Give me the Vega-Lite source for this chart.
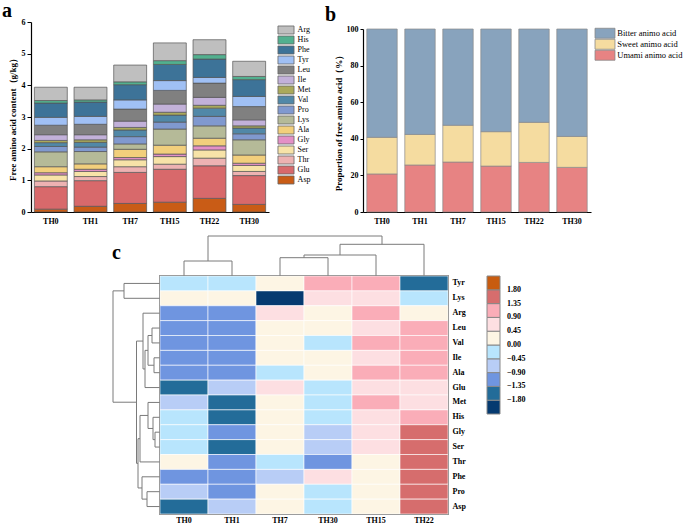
{
  "$schema": "https://vega.github.io/schema/vega-lite/v6.json",
  "padding": {"left": 2, "top": 1, "right": 2, "bottom": 0},
  "background": "white",
  "config": {
    "view": {"stroke": null},
    "font": "Liberation Serif",
    "axis": {"labelFont": "Liberation Serif", "titleFont": "Liberation Serif", "labelColor": "#000", "titleColor": "#000", "domainColor": "#000", "tickColor": "#000", "grid": false, "labelFontWeight": "bold", "titleFontWeight": "bold"},
    "legend": {"labelFont": "Liberation Serif", "labelColor": "#000"},
    "title": {"font": "Liberation Serif", "fontWeight": "bold", "fontSize": 20, "color": "#000"}
  },
  "resolve": {"scale": {"color": "independent"}, "legend": {"color": "independent"}},
  "spacing": 10,
  "vconcat": [
    {
      "spacing": 10,
      "resolve": {"scale": {"color": "independent"}, "legend": {"color": "independent"}},
      "hconcat": [
        {
          "title": {"text": "a", "anchor": "start", "frame": "bounds", "dx": -6, "offset": -3},
          "width": 238,
          "height": 190,
          "data": {"values": [
            {"g":"TH0","aa":"Asp","v":0.09},{"g":"TH0","aa":"Glu","v":0.71},{"g":"TH0","aa":"Thr","v":0.18},{"g":"TH0","aa":"Ser","v":0.19},{"g":"TH0","aa":"Gly","v":0.07},{"g":"TH0","aa":"Ala","v":0.19},{"g":"TH0","aa":"Lys","v":0.47},{"g":"TH0","aa":"Pro","v":0.17},{"g":"TH0","aa":"Val","v":0.12},{"g":"TH0","aa":"Met","v":0.07},{"g":"TH0","aa":"Ile","v":0.18},{"g":"TH0","aa":"Leu","v":0.30},{"g":"TH0","aa":"Tyr","v":0.25},{"g":"TH0","aa":"Phe","v":0.45},{"g":"TH0","aa":"His","v":0.08},{"g":"TH0","aa":"Arg","v":0.42},
            {"g":"TH1","aa":"Asp","v":0.18},{"g":"TH1","aa":"Glu","v":0.81},{"g":"TH1","aa":"Thr","v":0.13},{"g":"TH1","aa":"Ser","v":0.16},{"g":"TH1","aa":"Gly","v":0.07},{"g":"TH1","aa":"Ala","v":0.17},{"g":"TH1","aa":"Lys","v":0.39},{"g":"TH1","aa":"Pro","v":0.14},{"g":"TH1","aa":"Val","v":0.15},{"g":"TH1","aa":"Met","v":0.08},{"g":"TH1","aa":"Ile","v":0.16},{"g":"TH1","aa":"Leu","v":0.33},{"g":"TH1","aa":"Tyr","v":0.25},{"g":"TH1","aa":"Phe","v":0.45},{"g":"TH1","aa":"His","v":0.07},{"g":"TH1","aa":"Arg","v":0.40},
            {"g":"TH7","aa":"Asp","v":0.27},{"g":"TH7","aa":"Glu","v":0.98},{"g":"TH7","aa":"Thr","v":0.18},{"g":"TH7","aa":"Ser","v":0.22},{"g":"TH7","aa":"Gly","v":0.07},{"g":"TH7","aa":"Ala","v":0.26},{"g":"TH7","aa":"Lys","v":0.17},{"g":"TH7","aa":"Pro","v":0.23},{"g":"TH7","aa":"Val","v":0.21},{"g":"TH7","aa":"Met","v":0.08},{"g":"TH7","aa":"Ile","v":0.20},{"g":"TH7","aa":"Leu","v":0.38},{"g":"TH7","aa":"Tyr","v":0.29},{"g":"TH7","aa":"Phe","v":0.48},{"g":"TH7","aa":"His","v":0.09},{"g":"TH7","aa":"Arg","v":0.53},
            {"g":"TH15","aa":"Asp","v":0.31},{"g":"TH15","aa":"Glu","v":1.04},{"g":"TH15","aa":"Thr","v":0.16},{"g":"TH15","aa":"Ser","v":0.24},{"g":"TH15","aa":"Gly","v":0.08},{"g":"TH15","aa":"Ala","v":0.28},{"g":"TH15","aa":"Lys","v":0.51},{"g":"TH15","aa":"Pro","v":0.22},{"g":"TH15","aa":"Val","v":0.22},{"g":"TH15","aa":"Met","v":0.09},{"g":"TH15","aa":"Ile","v":0.26},{"g":"TH15","aa":"Leu","v":0.43},{"g":"TH15","aa":"Tyr","v":0.31},{"g":"TH15","aa":"Phe","v":0.51},{"g":"TH15","aa":"His","v":0.12},{"g":"TH15","aa":"Arg","v":0.56},
            {"g":"TH22","aa":"Asp","v":0.43},{"g":"TH22","aa":"Glu","v":1.03},{"g":"TH22","aa":"Thr","v":0.24},{"g":"TH22","aa":"Ser","v":0.26},{"g":"TH22","aa":"Gly","v":0.13},{"g":"TH22","aa":"Ala","v":0.24},{"g":"TH22","aa":"Lys","v":0.39},{"g":"TH22","aa":"Pro","v":0.30},{"g":"TH22","aa":"Val","v":0.26},{"g":"TH22","aa":"Met","v":0.09},{"g":"TH22","aa":"Ile","v":0.25},{"g":"TH22","aa":"Leu","v":0.45},{"g":"TH22","aa":"Tyr","v":0.18},{"g":"TH22","aa":"Phe","v":0.58},{"g":"TH22","aa":"His","v":0.14},{"g":"TH22","aa":"Arg","v":0.47},
            {"g":"TH30","aa":"Asp","v":0.24},{"g":"TH30","aa":"Glu","v":0.91},{"g":"TH30","aa":"Thr","v":0.13},{"g":"TH30","aa":"Ser","v":0.19},{"g":"TH30","aa":"Gly","v":0.07},{"g":"TH30","aa":"Ala","v":0.26},{"g":"TH30","aa":"Lys","v":0.48},{"g":"TH30","aa":"Pro","v":0.19},{"g":"TH30","aa":"Val","v":0.18},{"g":"TH30","aa":"Met","v":0.07},{"g":"TH30","aa":"Ile","v":0.19},{"g":"TH30","aa":"Leu","v":0.42},{"g":"TH30","aa":"Tyr","v":0.32},{"g":"TH30","aa":"Phe","v":0.53},{"g":"TH30","aa":"His","v":0.10},{"g":"TH30","aa":"Arg","v":0.48}
          ]},
          "transform": [{"calculate": "indexof(['Asp','Glu','Thr','Ser','Gly','Ala','Lys','Pro','Val','Met','Ile','Leu','Tyr','Phe','His','Arg'], datum.aa)", "as": "k"}],
          "mark": {"type": "bar", "stroke": "#555", "strokeWidth": 0.7},
          "encoding": {
            "x": {"field": "g", "type": "nominal", "sort": ["TH0","TH1","TH7","TH15","TH22","TH30"], "scale": {"paddingInner": 0.17, "paddingOuter": 0.085}, "axis": {"title": null, "labelAngle": 0, "labelFontSize": 8, "ticks": false, "domainWidth": 1.2, "labelPadding": 5}},
            "y": {"field": "v", "type": "quantitative", "stack": "zero", "scale": {"domain": [0, 6]}, "axis": {"values": [0,1,2,3,4,5,6], "title": "Free amino acid content（g/kg）", "titleFontSize": 9, "labelFontSize": 8, "tickSize": 4, "titlePadding": 4, "domainWidth": 1.2, "labelPadding": 2}},
            "color": {"field": "aa", "type": "nominal", "scale": {"domain": ["Arg","His","Phe","Tyr","Leu","Ile","Met","Val","Pro","Lys","Ala","Gly","Ser","Thr","Glu","Asp"], "range": ["#bfbfbf","#52b08f","#3d7398","#a0c0f4","#808080","#c2b1d9","#aaa95b","#5188a8","#8099cf","#b5ba98","#f2cf7c","#e490c6","#f7e3a8","#edb2b2","#d8696b","#c95c16"]}, "legend": {"title": null, "orient": "right", "offset": 9, "padding": 4, "symbolType": "M-2.37,-1.18H2.37V1.18H-2.37Z", "symbolSize": 46, "symbolStrokeColor": "#666", "symbolStrokeWidth": 0.8, "labelFontSize": 8, "rowPadding": -2.1, "labelOffset": 7.6}},
            "order": {"field": "k", "type": "quantitative"}
          }
        },
        {
          "title": {"text": "b", "anchor": "start", "frame": "bounds", "dx": -9, "offset": -3},
          "width": 228,
          "height": 190,
          "data": {"values": [
            {"g":"TH0","t":"Umami animo acid","v":20.8},{"g":"TH0","t":"Sweet animo acid","v":20.0},{"g":"TH0","t":"Bitter animo acid","v":59.2},
            {"g":"TH1","t":"Umami animo acid","v":25.7},{"g":"TH1","t":"Sweet animo acid","v":16.7},{"g":"TH1","t":"Bitter animo acid","v":57.6},
            {"g":"TH7","t":"Umami animo acid","v":27.3},{"g":"TH7","t":"Sweet animo acid","v":20.1},{"g":"TH7","t":"Bitter animo acid","v":52.6},
            {"g":"TH15","t":"Umami animo acid","v":25.1},{"g":"TH15","t":"Sweet animo acid","v":18.8},{"g":"TH15","t":"Bitter animo acid","v":56.1},
            {"g":"TH22","t":"Umami animo acid","v":27.1},{"g":"TH22","t":"Sweet animo acid","v":21.9},{"g":"TH22","t":"Bitter animo acid","v":51.0},
            {"g":"TH30","t":"Umami animo acid","v":24.4},{"g":"TH30","t":"Sweet animo acid","v":16.9},{"g":"TH30","t":"Bitter animo acid","v":58.7}
          ]},
          "transform": [{"calculate": "indexof(['Umami animo acid','Sweet animo acid','Bitter animo acid'], datum.t)", "as": "k"}],
          "mark": {"type": "bar", "stroke": "#8a8a8a", "strokeWidth": 0.7},
          "encoding": {
            "x": {"field": "g", "type": "nominal", "sort": ["TH0","TH1","TH7","TH15","TH22","TH30"], "scale": {"paddingInner": 0.2, "paddingOuter": 0.1}, "axis": {"title": null, "labelAngle": 0, "labelFontSize": 8, "ticks": false, "domainWidth": 1.2, "labelPadding": 5}},
            "y": {"field": "v", "type": "quantitative", "stack": "zero", "scale": {"domain": [0, 100], "range": [190, 7]}, "axis": {"values": [0,20,40,60,80,100], "title": "Proportion of free amino acid（%）", "titleFontSize": 9, "labelFontSize": 8, "tickSize": 3, "titlePadding": 3, "domainWidth": 1.2, "labelPadding": 2}},
            "color": {"field": "t", "type": "nominal", "scale": {"domain": ["Bitter animo acid","Sweet animo acid","Umami animo acid"], "range": ["#88a3bd","#f5dca0","#e78383"]}, "legend": {"title": null, "orient": "none", "legendX": 237.75, "legendY": 7, "symbolType": "M-3.08,-1.54H3.08V1.54H-3.08Z", "symbolSize": 42, "symbolStrokeColor": "#888", "symbolStrokeWidth": 0.8, "labelFontSize": 8.5, "rowPadding": -4, "labelOffset": 8}},
            "order": {"field": "k", "type": "quantitative"}
          }
        }
      ]
    },
    {
      "spacing": 0,
      "bounds": "flush",
      "resolve": {"scale": {"color": "independent"}, "legend": {"color": "independent"}},
      "hconcat": [
        {
          "title": {"text": "c", "anchor": "start", "frame": "group", "dx": 81, "offset": -27},
          "width": 129,
          "height": 278,
          "data": {"values": [
            {"d1":0,"d2":36,"r1":0.5,"r2":0.5},{"d1":0,"d2":36,"r1":1.5,"r2":1.5},{"d1":36,"d2":36,"r1":0.5,"r2":1.5},
            {"d1":0,"d2":8,"r1":3.5,"r2":3.5},{"d1":0,"d2":8,"r1":4.5,"r2":4.5},{"d1":8,"d2":8,"r1":3.5,"r2":4.5},
            {"d1":0,"d2":6,"r1":5.5,"r2":5.5},{"d1":0,"d2":6,"r1":6.5,"r2":6.5},{"d1":6,"d2":6,"r1":5.5,"r2":6.5},
            {"d1":8,"d2":12,"r1":4,"r2":4},{"d1":6,"d2":12,"r1":6,"r2":6},{"d1":12,"d2":12,"r1":4,"r2":6},
            {"d1":12,"d2":15,"r1":5,"r2":5},{"d1":0,"d2":15,"r1":7.5,"r2":7.5},{"d1":15,"d2":15,"r1":5,"r2":7.5},
            {"d1":0,"d2":17,"r1":2.5,"r2":2.5},{"d1":15,"d2":17,"r1":6.25,"r2":6.25},{"d1":17,"d2":17,"r1":2.5,"r2":6.25},
            {"d1":0,"d2":5,"r1":10.5,"r2":10.5},{"d1":0,"d2":5,"r1":11.5,"r2":11.5},{"d1":5,"d2":5,"r1":10.5,"r2":11.5},
            {"d1":0,"d2":7,"r1":9.5,"r2":9.5},{"d1":5,"d2":7,"r1":11,"r2":11},{"d1":7,"d2":7,"r1":9.5,"r2":11},
            {"d1":0,"d2":12,"r1":8.5,"r2":8.5},{"d1":7,"d2":12,"r1":10.25,"r2":10.25},{"d1":12,"d2":12,"r1":8.5,"r2":10.25},
            {"d1":12,"d2":20,"r1":9.375,"r2":9.375},{"d1":0,"d2":20,"r1":12.5,"r2":12.5},{"d1":20,"d2":20,"r1":9.375,"r2":12.5},
            {"d1":0,"d2":13,"r1":14.5,"r2":14.5},{"d1":0,"d2":13,"r1":15.5,"r2":15.5},{"d1":13,"d2":13,"r1":14.5,"r2":15.5},
            {"d1":0,"d2":18,"r1":13.5,"r2":13.5},{"d1":13,"d2":18,"r1":15,"r2":15},{"d1":18,"d2":18,"r1":13.5,"r2":15},
            {"d1":20,"d2":22,"r1":10.9375,"r2":10.9375},{"d1":18,"d2":22,"r1":14.25,"r2":14.25},{"d1":22,"d2":22,"r1":10.9375,"r2":14.25},
            {"d1":17,"d2":23.5,"r1":4.375,"r2":4.375},{"d1":22,"d2":23.5,"r1":12.59375,"r2":12.59375},{"d1":23.5,"d2":23.5,"r1":4.375,"r2":12.59375},
            {"d1":36,"d2":47,"r1":1,"r2":1},{"d1":23.5,"d2":47,"r1":8.484375,"r2":8.484375},{"d1":47,"d2":47,"r1":1,"r2":8.484375}
          ]},
          "mark": {"type": "rule", "color": "#7a7a7a", "strokeWidth": 1},
          "encoding": {
            "x": {"field": "d1", "type": "quantitative", "scale": {"domain": [0, 129], "reverse": true}, "axis": null},
            "x2": {"field": "d2"},
            "y": {"field": "r1", "type": "quantitative", "scale": {"domain": [-2.689, 16], "reverse": true}, "axis": null},
            "y2": {"field": "r2"}
          }
        },
        {
          "spacing": 0,
          "bounds": "flush",
          "resolve": {"scale": {"color": "independent"}, "legend": {"color": "independent"}},
          "vconcat": [
            {
              "width": 288,
              "height": 40,
              "data": {"values": [
                {"c1":0.5,"c2":0.5,"h1":0,"h2":15},{"c1":1.5,"c2":1.5,"h1":0,"h2":15},{"c1":0.5,"c2":1.5,"h1":15,"h2":15},
                {"c1":2.5,"c2":2.5,"h1":0,"h2":18.3},{"c1":3.5,"c2":3.5,"h1":0,"h2":18.3},{"c1":2.5,"c2":3.5,"h1":18.3,"h2":18.3},
                {"c1":3,"c2":3,"h1":18.3,"h2":21},{"c1":4.5,"c2":4.5,"h1":0,"h2":21},{"c1":3,"c2":4.5,"h1":21,"h2":21},
                {"c1":3.75,"c2":3.75,"h1":21,"h2":31.7},{"c1":5.5,"c2":5.5,"h1":0,"h2":31.7},{"c1":3.75,"c2":5.5,"h1":31.7,"h2":31.7},
                {"c1":1,"c2":1,"h1":15,"h2":40},{"c1":4.625,"c2":4.625,"h1":31.7,"h2":40},{"c1":1,"c2":4.625,"h1":40,"h2":40}
              ]},
              "mark": {"type": "rule", "color": "#7a7a7a", "strokeWidth": 1},
              "encoding": {
                "x": {"field": "c1", "type": "quantitative", "scale": {"domain": [0, 6]}, "axis": null},
                "x2": {"field": "c2"},
                "y": {"field": "h1", "type": "quantitative", "scale": {"domain": [0, 40]}, "axis": null},
                "y2": {"field": "h2"}
              }
            },
            {
              "width": 288,
              "height": 238,
              "view": {"stroke": "#444", "strokeWidth": 1.5},
              "data": {"values": [
                {"aa":"Tyr","g":"TH0","z":-0.2},{"aa":"Tyr","g":"TH1","z":-0.2},{"aa":"Tyr","g":"TH7","z":0.2},{"aa":"Tyr","g":"TH30","z":1.1},{"aa":"Tyr","g":"TH15","z":1.1},{"aa":"Tyr","g":"TH22","z":-1.6},
                {"aa":"Lys","g":"TH0","z":0.2},{"aa":"Lys","g":"TH1","z":0.2},{"aa":"Lys","g":"TH7","z":-2.0},{"aa":"Lys","g":"TH30","z":0.7},{"aa":"Lys","g":"TH15","z":0.7},{"aa":"Lys","g":"TH22","z":-0.2},
                {"aa":"Arg","g":"TH0","z":-1.1},{"aa":"Arg","g":"TH1","z":-1.1},{"aa":"Arg","g":"TH7","z":0.7},{"aa":"Arg","g":"TH30","z":0.2},{"aa":"Arg","g":"TH15","z":1.1},{"aa":"Arg","g":"TH22","z":0.2},
                {"aa":"Leu","g":"TH0","z":-1.1},{"aa":"Leu","g":"TH1","z":-1.1},{"aa":"Leu","g":"TH7","z":0.2},{"aa":"Leu","g":"TH30","z":0.2},{"aa":"Leu","g":"TH15","z":0.7},{"aa":"Leu","g":"TH22","z":1.1},
                {"aa":"Val","g":"TH0","z":-1.1},{"aa":"Val","g":"TH1","z":-1.1},{"aa":"Val","g":"TH7","z":0.2},{"aa":"Val","g":"TH30","z":-0.2},{"aa":"Val","g":"TH15","z":1.1},{"aa":"Val","g":"TH22","z":1.1},
                {"aa":"Ile","g":"TH0","z":-1.1},{"aa":"Ile","g":"TH1","z":-1.1},{"aa":"Ile","g":"TH7","z":0.2},{"aa":"Ile","g":"TH30","z":0.2},{"aa":"Ile","g":"TH15","z":0.7},{"aa":"Ile","g":"TH22","z":1.1},
                {"aa":"Ala","g":"TH0","z":-1.1},{"aa":"Ala","g":"TH1","z":-1.1},{"aa":"Ala","g":"TH7","z":-0.2},{"aa":"Ala","g":"TH30","z":0.2},{"aa":"Ala","g":"TH15","z":1.1},{"aa":"Ala","g":"TH22","z":1.1},
                {"aa":"Glu","g":"TH0","z":-1.6},{"aa":"Glu","g":"TH1","z":-0.7},{"aa":"Glu","g":"TH7","z":0.7},{"aa":"Glu","g":"TH30","z":-0.2},{"aa":"Glu","g":"TH15","z":0.7},{"aa":"Glu","g":"TH22","z":0.7},
                {"aa":"Met","g":"TH0","z":-0.7},{"aa":"Met","g":"TH1","z":-1.6},{"aa":"Met","g":"TH7","z":0.2},{"aa":"Met","g":"TH30","z":-0.2},{"aa":"Met","g":"TH15","z":1.1},{"aa":"Met","g":"TH22","z":0.7},
                {"aa":"His","g":"TH0","z":-0.2},{"aa":"His","g":"TH1","z":-1.6},{"aa":"His","g":"TH7","z":0.2},{"aa":"His","g":"TH30","z":-0.2},{"aa":"His","g":"TH15","z":0.7},{"aa":"His","g":"TH22","z":1.1},
                {"aa":"Gly","g":"TH0","z":-0.2},{"aa":"Gly","g":"TH1","z":-1.1},{"aa":"Gly","g":"TH7","z":0.2},{"aa":"Gly","g":"TH30","z":-0.7},{"aa":"Gly","g":"TH15","z":0.7},{"aa":"Gly","g":"TH22","z":1.6},
                {"aa":"Ser","g":"TH0","z":-0.2},{"aa":"Ser","g":"TH1","z":-1.6},{"aa":"Ser","g":"TH7","z":0.2},{"aa":"Ser","g":"TH30","z":-0.7},{"aa":"Ser","g":"TH15","z":0.7},{"aa":"Ser","g":"TH22","z":1.6},
                {"aa":"Thr","g":"TH0","z":0.2},{"aa":"Thr","g":"TH1","z":-1.1},{"aa":"Thr","g":"TH7","z":-0.2},{"aa":"Thr","g":"TH30","z":-1.1},{"aa":"Thr","g":"TH15","z":0.2},{"aa":"Thr","g":"TH22","z":1.6},
                {"aa":"Phe","g":"TH0","z":-1.1},{"aa":"Phe","g":"TH1","z":-1.1},{"aa":"Phe","g":"TH7","z":-0.7},{"aa":"Phe","g":"TH30","z":0.7},{"aa":"Phe","g":"TH15","z":0.2},{"aa":"Phe","g":"TH22","z":1.6},
                {"aa":"Pro","g":"TH0","z":-0.7},{"aa":"Pro","g":"TH1","z":-1.1},{"aa":"Pro","g":"TH7","z":0.2},{"aa":"Pro","g":"TH30","z":-0.2},{"aa":"Pro","g":"TH15","z":0.2},{"aa":"Pro","g":"TH22","z":1.6},
                {"aa":"Asp","g":"TH0","z":-1.6},{"aa":"Asp","g":"TH1","z":-0.7},{"aa":"Asp","g":"TH7","z":0.2},{"aa":"Asp","g":"TH30","z":-0.2},{"aa":"Asp","g":"TH15","z":0.2},{"aa":"Asp","g":"TH22","z":1.6}
              ]},
              "mark": {"type": "rect", "stroke": "#ffffff", "strokeWidth": 0.6},
              "encoding": {
                "x": {"field": "g", "type": "nominal", "sort": ["TH0","TH1","TH7","TH30","TH15","TH22"], "axis": {"title": null, "orient": "bottom", "labelAngle": 0, "labelFontSize": 8, "ticks": false, "domain": false, "labelPadding": 2}},
                "y": {"field": "aa", "type": "nominal", "sort": ["Tyr","Lys","Arg","Leu","Val","Ile","Ala","Glu","Met","His","Gly","Ser","Thr","Phe","Pro","Asp"], "axis": {"title": null, "orient": "right", "labelFontSize": 8, "ticks": false, "domain": false, "labelPadding": 4}},
                "color": {"field": "z", "type": "quantitative", "scale": {"type": "threshold", "domain": [-1.8,-1.35,-0.9,-0.45,0,0.45,0.9,1.35,1.8], "range": ["#053a70","#236c99","#6f95e0","#b8cdf6","#b8e5fd","#fdf5e4","#fddfe2","#faadb8","#d66d6d","#c85c10"]}, "legend": {"type": "gradient", "title": null, "orient": "none", "legendX": 327, "legendY": 0, "direction": "vertical", "gradientLength": 138, "gradientThickness": 13, "gradientStrokeColor": "#888", "gradientStrokeWidth": 1, "format": ".2f", "labelFontSize": 8, "labelFontWeight": "bold", "labelOffset": 7, "labelOverlap": false}}
              }
            }
          ]
        }
      ]
    }
  ]
}
